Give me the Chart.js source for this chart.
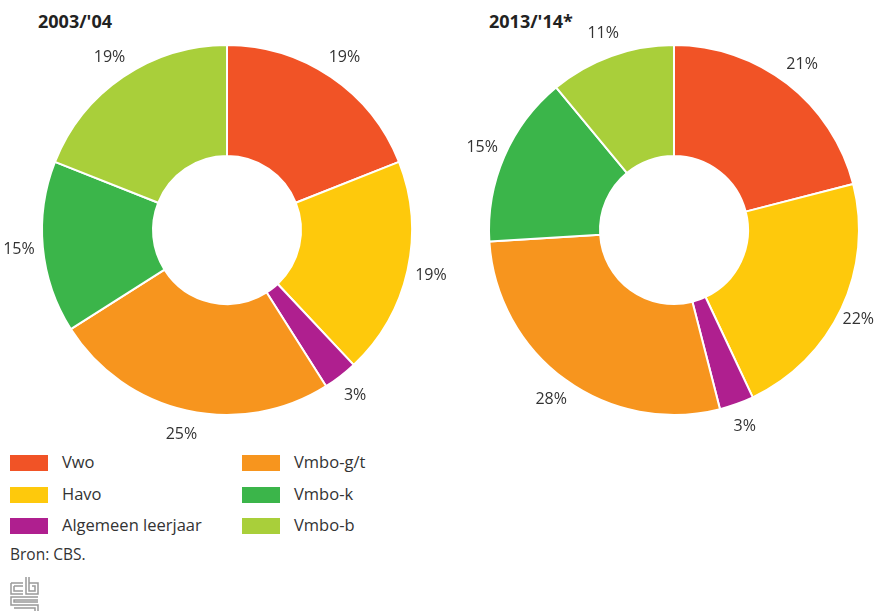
<!DOCTYPE html>
<html>
<head>
<meta charset="utf-8">
<script src="https://cdn.jsdelivr.net/npm/chart.js@4"></script>
<style>
  html, body { margin: 0; padding: 0; background: #fff; overflow: hidden; }
  body { width: 876px; height: 611px; position: relative; font-family: "Open Sans", sans-serif; color: #333; }
  .title { position: absolute; top: 9px; font-weight: bold; font-size: 18px; color: #222; }
  canvas { position: absolute; top: 0; }
  .legend { position: absolute; left: 10px; top: 455px; font-size: 16.5px; }
  .item { position: absolute; white-space: nowrap; height: 16px; line-height: 16px; }
  .item span.box { position: absolute; left: 0; top: 0; width: 38px; height: 16px; }
  .item span.lbl { position: absolute; left: 52px; top: -1px; }
  .source { position: absolute; left: 10px; top: 543px; font-size: 15.5px; }
  .logo { position: absolute; left: 10px; top: 576px; }
</style>
</head>
<body>
<div class="title" style="left:38px">2003/'04</div>
<div class="title" style="left:489px">2013/'14*</div>
<canvas id="chart1" width="454" height="440" style="left:0"></canvas>
<canvas id="chart2" width="429" height="440" style="left:447px"></canvas>
<div class="legend" id="legend"></div>
<div class="source">Bron: CBS.</div>
<svg class="logo" width="30" height="40" viewBox="0 0 30 40" fill="none" stroke="#999" stroke-width="1.5">
  <path d="M1 7 H13 M1 7 V18 H13 M4 10 H13 M4 10 V15 H13"/>
  <path d="M16 1 V18 H28 V7 H19 M19 1 V15 H25 V10 H22"/>
  <path d="M28 21 H1 V29 H28 V39 H1 M28 24 H4 V26 H28 M1 36 H25 V32 H4"/>
</svg>

<script>
// categories and colours
const categories = ['Vwo', 'Havo', 'Algemeen leerjaar', 'Vmbo-g/t', 'Vmbo-k', 'Vmbo-b'];
const colors = ['#f15326', '#fec90c', '#af1f8f', '#f7951e', '#3bb54a', '#a9cf3a'];

// share per year (%)
const values2003 = [19, 19, 3, 25, 15, 19];
const values2013 = [21, 22, 3, 28, 15, 11];

// legend layout: left column then right column
const legendOrder = [0, 3, 1, 4, 2, 5];

// draws the percentage next to each slice
const outerLabels = {
  id: 'outerLabels',
  afterDatasetsDraw(chart) {
    const ctx = chart.ctx;
    const meta = chart.getDatasetMeta(0);
    const data = chart.data.datasets[0].data;
    ctx.save();
    ctx.font = '16px "Open Sans", sans-serif';
    ctx.fillStyle = '#333';
    ctx.textAlign = 'center';
    ctx.textBaseline = 'middle';
    meta.data.forEach(function (arc, i) {
      const p = arc.getProps(['x', 'y', 'startAngle', 'endAngle', 'outerRadius'], true);
      const mid = (p.startAngle + p.endAngle) / 2;
      const r = p.outerRadius + 24;
      const txt = data[i] + '%';
      const half = ctx.measureText(txt).width / 2;
      // keep the label inside the canvas
      let x = p.x + Math.cos(mid) * r;
      x = Math.min(Math.max(x, half + 1), chart.width - half - 2);
      ctx.fillText(txt, x, p.y + Math.sin(mid) * r);
    });
    ctx.restore();
  },
};

function renderDoughnut(canvasId, values, padding) {
  const ctx = document.getElementById(canvasId).getContext('2d');
  return new Chart(ctx, {
    type: 'doughnut',
    data: {
      labels: categories,
      datasets: [
        {
          data: values,
          backgroundColor: colors,
          borderColor: '#fff',
          borderWidth: 2,
        },
      ],
    },
    options: {
      responsive: false,
      animation: false,
      cutout: '40%',
      layout: { padding },
      plugins: { legend: { display: false }, tooltip: { enabled: false } },
    },
    plugins: [outerLabels],
  });
}

renderDoughnut('chart1', values2003, { left: 41, right: 41, top: 44, bottom: 24 });
renderDoughnut('chart2', values2013, { left: 41, right: 16, top: 44, bottom: 24 });

// html legend in two columns
const legend = document.getElementById('legend');
legendOrder.forEach(function (idx, n) {
  const col = n % 2;
  const row = Math.floor(n / 2);
  const item = document.createElement('div');
  item.className = 'item';
  item.style.left = col * 232 + 'px';
  item.style.top = row * 31.5 + 'px';
  item.innerHTML =
    '<span class="box" style="background:' + colors[idx] + '"></span>' +
    '<span class="lbl">' + categories[idx] + '</span>';
  legend.appendChild(item);
});
</script>
</body>
</html>
